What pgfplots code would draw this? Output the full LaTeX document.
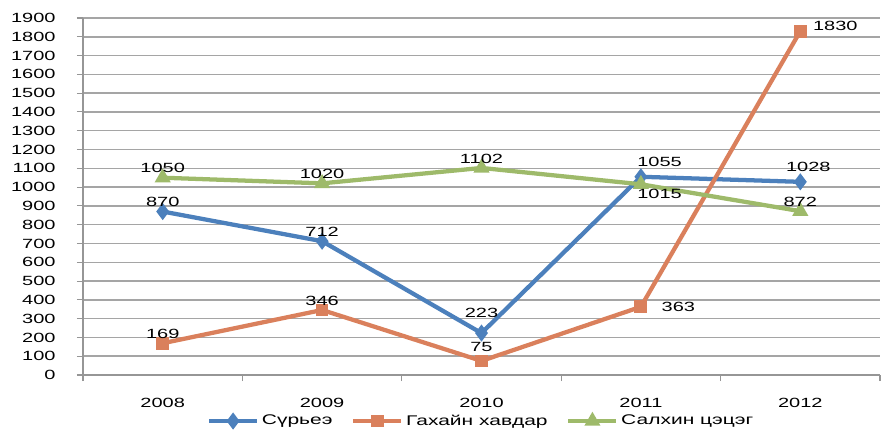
\documentclass[border=0pt]{standalone}
\usepackage{fontspec}
\setmainfont{Liberation Sans}[FakeStretch=1.5]
\usepackage{pgfplots}
\pgfplotsset{compat=1.18}
\definecolor{cBlue}{RGB}{76,128,188}
\definecolor{cOrange}{RGB}{218,128,92}
\definecolor{cGreen}{RGB}{158,186,106}
\definecolor{cGrid}{RGB}{165,165,165}
\definecolor{cAxis}{RGB}{150,150,150}
\begin{document}
\begin{tikzpicture}
\useasboundingbox (-62.25pt,-46.5pt) rectangle (600pt,281.25pt);
\begin{axis}[
    at={(0,0)}, anchor=south west,
    scale only axis,
    width=597.75pt, height=267.75pt,
    xmin=0, xmax=5, ymin=0, ymax=1900,
    axis x line*=bottom, axis y line*=left,
    axis line style={draw=cAxis, line width=0.8pt, -},
    xtick={0.5,1.5,2.5,3.5,4.5},
    xticklabels={2008,2009,2010,2011,2012},
    minor xtick={0,1,2,3,4,5},
    major x tick style={draw=none},
    ytick={0,100,...,1900},
    tick align=outside,
    major tick length=4.5pt, minor tick length=4.5pt,
    tick style={draw=cAxis, line width=0.8pt},
    ymajorgrids,
    grid style={cGrid, line width=1.1pt},
    ticklabel style={font=\fontsize{10}{11}\selectfont},
    xticklabel style={yshift=-9pt},
    yticklabel style={xshift=-12.5pt},
    /pgf/number format/assume math mode=true,
    /pgf/number format/1000 sep={},
    nodes near coords,
    every node near coord/.append style={font=\fontsize{10}{11}\selectfont, text=black, inner sep=2pt},
    legend columns=3,
    legend style={at={(0.5,-0.129)}, anchor=center, draw=none, fill=none,
        font=\fontsize{10.5}{11}\selectfont,
        /tikz/every even column/.append style={column sep=12pt}},
    legend image code/.code={\draw[mark repeat=2,mark phase=2] plot coordinates {(0pt,0pt)(18pt,0pt)(36pt,0pt)};},
]
\addplot[cBlue, line width=3.2pt, mark=diamond*, mark size=3.8pt, mark options={solid},
    coordinate style/.condition={\coordindex==2}{yshift=8pt},
    coordinate style/.condition={\coordindex==3}{xshift=14pt, yshift=4pt},
    coordinate style/.condition={\coordindex==4}{xshift=6pt, yshift=4pt}]
coordinates {(0.5,870)(1.5,712)(2.5,223)(3.5,1055)(4.5,1028)};
\addplot[cOrange, line width=3.2pt, mark=square*, mark size=3.2pt, mark options={solid},
    coordinate style/.condition={\coordindex==2}{yshift=3pt},
    coordinate style/.condition={\coordindex==3}{anchor=west, xshift=12pt},
    coordinate style/.condition={\coordindex==4}{anchor=west, xshift=6pt, yshift=4pt}]
coordinates {(0.5,169)(1.5,346)(2.5,75)(3.5,363)(4.5,1830)};
\addplot[cGreen, line width=3.2pt, mark=triangle*, mark size=3.8pt, mark options={solid},
    coordinate style/.condition={\coordindex==3}{anchor=north, xshift=14pt}]
coordinates {(0.5,1050)(1.5,1020)(2.5,1102)(3.5,1015)(4.5,872)};
\legend{Сүрьеэ, Гахайн хавдар, Салхин цэцэг}
\end{axis}
\end{tikzpicture}
\end{document}
